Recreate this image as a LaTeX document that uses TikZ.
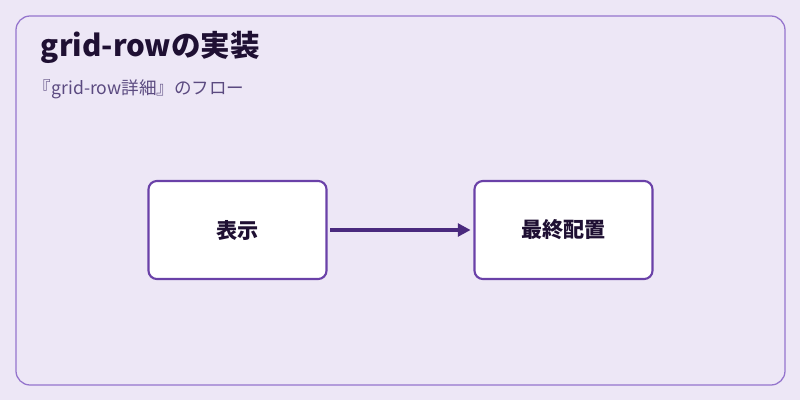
\documentclass[tikz,border=0pt]{standalone}
\usepackage{fontspec}
\setmainfont{Noto Sans CJK JP}
\usetikzlibrary{positioning}
\usetikzlibrary{arrows.meta}
\definecolor{bgcol}{HTML}{EDE7F6}
\definecolor{framecol}{HTML}{9575CD}
\definecolor{boxcol}{HTML}{6A41A8}
\definecolor{arrowcol}{HTML}{4A2A7E}
\definecolor{titlecol}{HTML}{1F1033}
\definecolor{subcol}{HTML}{5B4A80}
\tikzset{stage/.style = {rectangle, draw=boxcol, line width=1.5pt, fill=white,
                rounded corners=6pt, minimum width=4.45cm, minimum height=2.45cm,
                font=\fontsize{15}{17}\selectfont\bfseries, text=titlecol}}
\tikzset{line/.style = {draw=arrowcol, line width=2.2pt, shorten <=2pt, shorten >=2pt, -{Triangle[length=9pt,width=9pt]}}}

\begin{document}
\begin{tikzpicture}[x=0.025cm,y=-0.025cm]
            \fill[bgcol] (0,0) rectangle (800,400);
            \useasboundingbox (0,0) rectangle (800,400);
            \draw[framecol, line width=0.9pt, rounded corners=10pt] (16,16) rectangle (785,385);
            \node[anchor=west, text=titlecol, font=\fontsize{21}{24}\selectfont\bfseries](title) at (36,47){grid-rowの実装};
            \node[anchor=west, text=subcol, font=\fontsize{12.5}{14}\selectfont](subtitle) at (29,89){『grid-row詳細』のフロー};
            \node[stage](show) at (237.5,230){表示};
            \node[stage](place) at (563.5,230){最終配置};
            \path[line] (show) -- (place);
        \end{tikzpicture}
\end{document}
